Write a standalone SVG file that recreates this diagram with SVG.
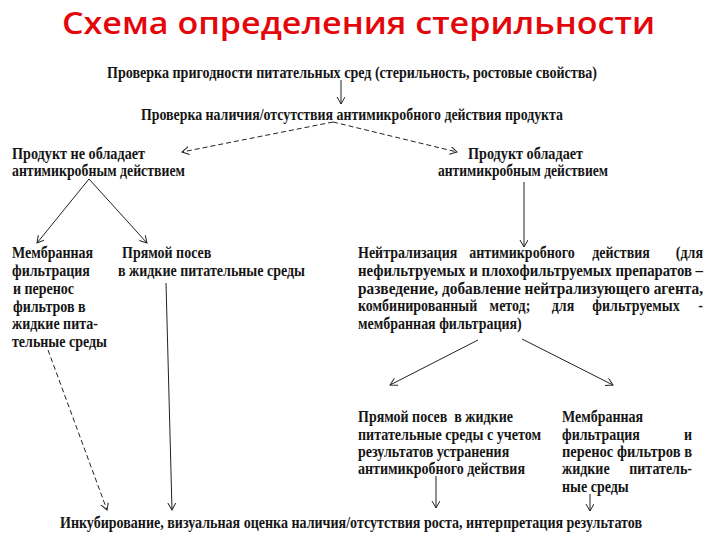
<svg xmlns="http://www.w3.org/2000/svg" width="720" height="540" viewBox="0 0 720 540">
<defs>
<marker id="ah" markerWidth="10" markerHeight="10" refX="7" refY="4" orient="auto" markerUnits="userSpaceOnUse">
<path d="M0,0 L7,4 L0,8" fill="none" stroke="#222" stroke-width="1"/>
</marker>
<style>
.t{font-family:"Liberation Serif","Times New Roman",serif;font-weight:bold;font-size:16px;fill:#151515}
.title{font-family:"Open Sans","Noto Sans",sans-serif;font-weight:600;font-size:31px;fill:#e3070c}
.c{fill:none;stroke:#222;stroke-width:1}
.d{stroke-dasharray:5,3}
</style>
</defs>
<rect width="720" height="540" fill="#fff"/>
<text class="title" x="62" y="34" textLength="593" lengthAdjust="spacingAndGlyphs">Схема определения стерильности</text>

<g id="n1"><text class="t" x="107" y="78" textLength="490" lengthAdjust="spacingAndGlyphs">Проверка пригодности питательных сред (стерильность, ростовые свойства)</text></g>
<g id="n2"><text class="t" x="141" y="120" textLength="422" lengthAdjust="spacingAndGlyphs">Проверка наличия/отсутствия антимикробного действия продукта</text></g>
<g id="n3">
<text class="t" x="12" y="159" textLength="133" lengthAdjust="spacingAndGlyphs">Продукт не обладает</text>
<text class="t" x="12" y="176" textLength="173" lengthAdjust="spacingAndGlyphs">антимикробным действием</text>
</g>
<g id="n4">
<text class="t" x="468" y="159" textLength="115" lengthAdjust="spacingAndGlyphs">Продукт обладает</text>
<text class="t" x="438" y="176" textLength="170" lengthAdjust="spacingAndGlyphs">антимикробным действием</text>
</g>
<g id="n5">
<text class="t" transform="matrix(.875 0 0 1 12 258)">Мембранная</text>
<text class="t" transform="matrix(.875 0 0 1 12 276)">фильтрация</text>
<text class="t" transform="matrix(.875 0 0 1 13 294)">и перенос</text>
<text class="t" transform="matrix(.875 0 0 1 13 312)">фильтров в</text>
<text class="t" transform="matrix(.875 0 0 1 12 329)">жидкие пита-</text>
<text class="t" transform="matrix(.875 0 0 1 12 347)">тельные среды</text>
</g>
<g id="n6">
<text class="t" transform="matrix(.875 0 0 1 122 258)">Прямой посев</text>
<text class="t" x="118" y="276" textLength="187" lengthAdjust="spacingAndGlyphs">в жидкие питательные среды</text>
</g>
<g id="n7">
<text class="t" transform="matrix(.875 0 0 1 358 258)"><tspan x="0">Нейтрализация</tspan><tspan x="187.4" text-anchor="middle">антимикробного</tspan><tspan x="300.6" text-anchor="middle">действия</tspan><tspan x="394.3" text-anchor="end">(для</tspan></text>
<text class="t" x="358" y="276" textLength="345" lengthAdjust="spacingAndGlyphs">нефильтруемых и плохофильтруемых препаратов –</text>
<text class="t" x="358" y="294" textLength="345" lengthAdjust="spacingAndGlyphs">разведение, добавление нейтрализующего агента,</text>
<text class="t" transform="matrix(.875 0 0 1 358 311)"><tspan x="0">комбинированный</tspan><tspan x="173.7" text-anchor="middle">метод;</tspan><tspan x="234.3" text-anchor="middle">для</tspan><tspan x="317.7" text-anchor="middle">фильтруемых</tspan><tspan x="394.3" text-anchor="end">-</tspan></text>
<text class="t" transform="matrix(.875 0 0 1 358 329)">мембранная фильтрация)</text>
</g>
<g id="n8">
<text class="t" transform="matrix(.875 0 0 1 358 422)" xml:space="preserve">Прямой посев  в жидкие</text>
<text class="t" x="358" y="440" textLength="183" lengthAdjust="spacingAndGlyphs">питательные среды с учетом</text>
<text class="t" transform="matrix(.875 0 0 1 358 457)">результатов устранения</text>
<text class="t" x="358" y="474" textLength="167" lengthAdjust="spacingAndGlyphs">антимикробного действия</text>
</g>
<g id="n9">
<text class="t" transform="matrix(.875 0 0 1 562 422)">Мембранная</text>
<text class="t" transform="matrix(.875 0 0 1 562 440)"><tspan x="0">фильтрация</tspan><tspan x="148.6" text-anchor="end">и</tspan></text>
<text class="t" x="562" y="457" textLength="130" lengthAdjust="spacingAndGlyphs">перенос фильтров в</text>
<text class="t" transform="matrix(.875 0 0 1 562 474)"><tspan x="0">жидкие</tspan><tspan x="148.6" text-anchor="end">питатель-</tspan></text>
<text class="t" transform="matrix(.875 0 0 1 562 492)">ные среды</text>
</g>
<g id="n10"><text class="t" x="60" y="528" textLength="582" lengthAdjust="spacingAndGlyphs">Инкубирование, визуальная оценка наличия/отсутствия роста, интерпретация результатов</text></g>

<g id="connectors">
<line class="c" x1="341" y1="80" x2="341" y2="104" marker-end="url(#ah)"/>
<line class="c d" x1="333" y1="122" x2="182" y2="152" marker-end="url(#ah)"/>
<line class="c d" x1="333" y1="122" x2="457" y2="152" marker-end="url(#ah)"/>
<line class="c" x1="89" y1="179" x2="37" y2="243" marker-end="url(#ah)"/>
<line class="c" x1="89" y1="179" x2="147" y2="243" marker-end="url(#ah)"/>
<line class="c" x1="524" y1="182" x2="524" y2="247" marker-end="url(#ah)"/>
<line class="c" x1="478" y1="340" x2="390" y2="385" marker-end="url(#ah)"/>
<line class="c" x1="522" y1="339" x2="613" y2="385" marker-end="url(#ah)"/>
<line class="c" x1="436" y1="476" x2="436" y2="508" marker-end="url(#ah)"/>
<line class="c" x1="590" y1="494" x2="590" y2="511" marker-end="url(#ah)"/>
<line class="c d" x1="48" y1="350" x2="107" y2="510" marker-end="url(#ah)"/>
<line class="c" x1="166" y1="283" x2="172" y2="510" marker-end="url(#ah)"/>
</g>
</svg>
